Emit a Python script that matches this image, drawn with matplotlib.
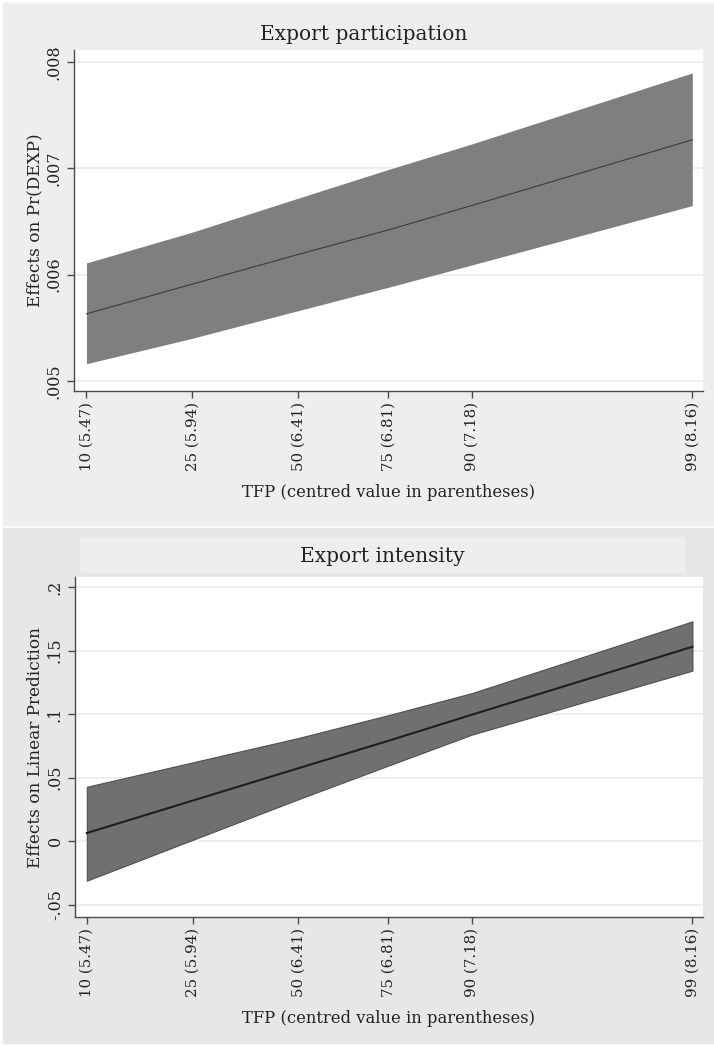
import matplotlib.pyplot as plt
from matplotlib.patches import Rectangle

plt.rc('font', family='DejaVu Serif')

# TFP percentiles and their centred values (x axis is linear in the centred value)
tfp_pct = [10, 25, 50, 75, 90, 99]
tfp_centred = [5.47, 5.94, 6.41, 6.81, 7.18, 8.16]
tick_labels = ['%d (%.2f)' % (p, c) for p, c in zip(tfp_pct, tfp_centred)]

# export participation: effects on Pr(DEXP)
part_mid = [0.00563, 0.00591, 0.00619, 0.00642, 0.00665, 0.00727]
part_lo = [0.00516, 0.00540, 0.00566, 0.00588, 0.00609, 0.00665]
part_hi = [0.00611, 0.00640, 0.00672, 0.00699, 0.00723, 0.00790]
part_yticks = [0.005, 0.006, 0.007, 0.008]
part_ylabels = ['.005', '.006', '.007', '.008']

# export intensity: effects on linear prediction
int_mid = [0.0064, 0.0319, 0.0574, 0.0790, 0.0995, 0.1530]
int_lo = [-0.0311, 0.0010, 0.0330, 0.0595, 0.0838, 0.1342]
int_hi = [0.0428, 0.0620, 0.0812, 0.0992, 0.1165, 0.1730]
int_yticks = [-0.05, 0, 0.05, 0.1, 0.15, 0.2]
int_ylabels = ['-.05', '0', '.05', '.1', '.15', '.2']

W, H = 714, 1045
fig = plt.figure(figsize=(W / 100, H / 100), dpi=100)


def px_rect(l, t, r, b):
    return [l / W, 1 - b / H, (r - l) / W, (b - t) / H]


def bg(l, t, r, b, color):
    fig.patches.append(Rectangle((l / W, 1 - b / H), (r - l) / W, (b - t) / H,
                                 transform=fig.transFigure, color=color, zorder=-10))


bg(3, 3, 714, 525, '#eeeeee')
bg(3, 528, 714, 1043, '#e7e7e7')
bg(80, 538, 684, 572, '#eeeeee')


def style(ax, yticks, ylabels, ylabel):
    ax.set_facecolor('white')
    for s in ['top', 'right']:
        ax.spines[s].set_visible(False)
    for s in ['left', 'bottom']:
        ax.spines[s].set_color('#4a4a4a')
        ax.spines[s].set_linewidth(1.0)
    ax.set_xticks(tfp_centred)
    ax.set_xticklabels(tick_labels, rotation=90, fontsize=10.8)
    ax.set_yticks(yticks)
    ax.set_yticklabels(ylabels, rotation=90, va='center', fontsize=11.5)
    ax.tick_params(direction='out', length=5, width=1, color='#4a4a4a', pad=3,
                   labelcolor='#222222')
    ax.grid(axis='y', color='#ebebeb', lw=1.2)
    ax.set_axisbelow(True)
    ax.set_ylabel(ylabel, fontsize=12.2, color='#222222', labelpad=2)
    ax.set_xlabel('TFP (centred value in parentheses)', fontsize=11.8,
                  color='#222222', labelpad=9)


# top panel
ax1 = fig.add_axes(px_rect(74, 50, 703, 391))
ax1.fill_between(tfp_centred, part_lo, part_hi, color='#7f7f7f', lw=0, zorder=2)
ax1.plot(tfp_centred, part_mid, color='#3c3c3c', lw=0.8, zorder=3)
ax1.set_xlim(5.4145, 8.2075)
ax1.set_ylim(0.004903, 0.008116)
style(ax1, part_yticks, part_ylabels, 'Effects on Pr(DEXP)')
fig.text(364 / W, 1 - 35 / H, 'Export participation', ha='center', va='center',
         fontsize=14.5, color='#222222')

# bottom panel
ax2 = fig.add_axes(px_rect(75, 577, 703, 917))
ax2.fill_between(tfp_centred, int_lo, int_hi, facecolor='#707070',
                 edgecolor='#4f4f4f', lw=0.8, zorder=2)
ax2.plot(tfp_centred, int_mid, color='#1e1e1e', lw=1.5, zorder=3)
ax2.set_xlim(5.4175, 8.207)
ax2.set_ylim(-0.0597, 0.2079)
style(ax2, int_yticks, int_ylabels, 'Effects on Linear Prediction')
fig.text(382 / W, 1 - 556 / H, 'Export intensity', ha='center', va='center',
         fontsize=14.5, color='#222222')

fig.savefig('out.png', dpi=100)
